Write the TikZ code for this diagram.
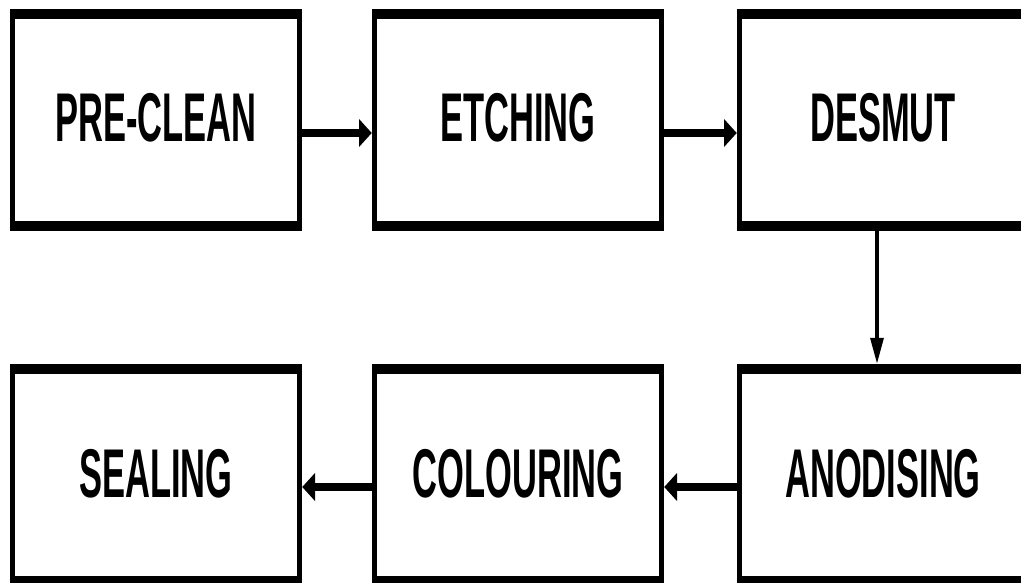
\documentclass[tikz,border=0pt]{standalone}
\usepackage{fontspec}
\setmainfont{Liberation Sans}
\usetikzlibrary{arrows.meta}
\begin{document}
\begin{tikzpicture}
\useasboundingbox (0,0) rectangle (1021pt,-583pt);
\begin{scope}[transform canvas={yscale=2}, x=1pt, y=-0.5pt,
  stepbox/.style={draw, line width=5pt, minimum width=287pt, minimum height=106.25pt,
    inner sep=0pt, text height=24.5pt, text depth=2.5pt,
    font=\fontsize{34.5}{40}\selectfont\bfseries},
  flow/.style={line width=4pt, -{Triangle[length=13pt,width=13pt]}}]
\node[stepbox] (pre)  at (156,120) {PRE-CLEAN};
\node[stepbox] (etch) at (518,120) {ETCHING};
\node[stepbox] (desm) at (883,120) {DESMUT};
\node[stepbox] (anod) at (883,475) {ANODISING};
\node[stepbox] (colr) at (518,475) {COLOURING};
\node[stepbox] (seal) at (156,475) {SEALING};
\draw[flow] ([yshift=-6.5pt]pre.east) -- ([yshift=-6.5pt]etch.west);
\draw[flow] ([yshift=-6.5pt]etch.east) -- ([yshift=-6.5pt]desm.west);
\draw[flow] ([xshift=-6pt]desm.south) -- ([xshift=-6pt]anod.north);
\draw[flow] ([yshift=-6pt]anod.west) -- ([yshift=-6pt]colr.east);
\draw[flow] ([yshift=-6pt]colr.west) -- ([yshift=-6pt]seal.east);
\end{scope}
\end{tikzpicture}
\end{document}
